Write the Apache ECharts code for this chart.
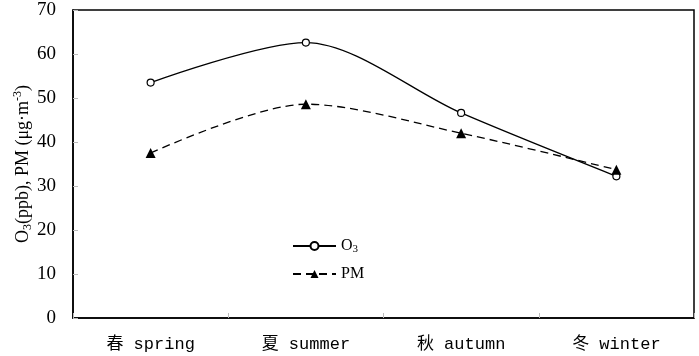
<!DOCTYPE html>
<html><head><meta charset="utf-8">
<script src="https://cdn.jsdelivr.net/npm/echarts@6/dist/echarts.min.js"></script>
<style>html,body{margin:0;padding:0;background:#fff}#c{width:699px;height:356px}</style>
</head><body><div id="c"></div>
<script>
var categories = ['春 spring', '夏 summer', '秋 autumn', '冬 winter'];
var o3Values = [53.5, 62.6, 46.6, 32.2];
var pmValues = [37.5, 48.6, 42.0, 33.7];
var yTicks = [0, 10, 20, 30, 40, 50, 60, 70];

var chart = echarts.init(document.getElementById('c'));
var serif = '"Liberation Serif", "DejaVu Serif", serif';
chart.setOption({
  animation: false,
  backgroundColor: '#fff',
  grid: { left: 73, right: 5, top: 10, bottom: 38, containLabel: false, outerBoundsMode: 'none',
    show: true, borderColor: '#000', borderWidth: 1.5 },
  legend: {
    orient: 'vertical', left: 287, top: 233, itemGap: 11, itemWidth: 43, itemHeight: 10,
    textStyle: { fontFamily: serif, fontSize: 16, color: '#000', rich: { sub: { fontSize: 11, verticalAlign: 'bottom', padding: [7, 0, 0, 0], fontFamily: serif } } },
    formatter: function (n) { return n === 'O3' ? 'O{sub|3}' : n; },
    data: ['O3', 'PM']
  },
  xAxis: {
    type: 'category', data: categories, boundaryGap: true,
    axisLine: { lineStyle: { color: '#000', width: 1.5 } },
    axisTick: { show: true, inside: true, length: 5, lineStyle: { color: '#bbb' } },
    axisLabel: { color: '#000', fontSize: 17, margin: 18, fontFamily: '"Liberation Mono", "Noto Sans CJK SC", monospace' },
    splitLine: { show: false }
  },
  yAxis: {
    type: 'value', min: 0, max: 70, interval: 10,
    name: '{a|O}{s|3}{a|(ppb), PM (μg·m}{p|-3}{a|)}',
    nameLocation: 'middle', nameGap: 38, nameRotate: 90, nameMoveOverlap: false,
    nameTextStyle: { rich: {
      a: { fontFamily: serif, fontSize: 18, color: '#000' },
      s: { fontFamily: serif, fontSize: 12, color: '#000', padding: [9, 0, 0, 0] },
      p: { fontFamily: serif, fontSize: 12, color: '#000', padding: [0, 0, 11, 0] }
    } },
    axisLine: { show: true, lineStyle: { color: '#000', width: 1.5 } },
    axisTick: { show: true, inside: true, length: 5, lineStyle: { color: '#bbb' } },
    axisLabel: { color: '#000', fontSize: 19, margin: 17, fontFamily: serif,
      formatter: function (v) { return yTicks.indexOf(v) >= 0 ? String(v) : ''; } },
    splitLine: { show: false }
  },
  series: [
    { name: 'O3', type: 'line', data: o3Values, smooth: 0.3,
      symbol: 'circle', symbolSize: 7,
      itemStyle: { color: '#fff', borderColor: '#000', borderWidth: 1.2 },
      lineStyle: { color: '#000', width: 1.3, type: 'solid' } },
    { name: 'PM', type: 'line', data: pmValues, smooth: 0.3,
      symbol: 'triangle', symbolSize: 10,
      itemStyle: { color: '#000' },
      lineStyle: { color: '#000', width: 1.3, type: [8, 5] } }
  ]
});
</script></body></html>
